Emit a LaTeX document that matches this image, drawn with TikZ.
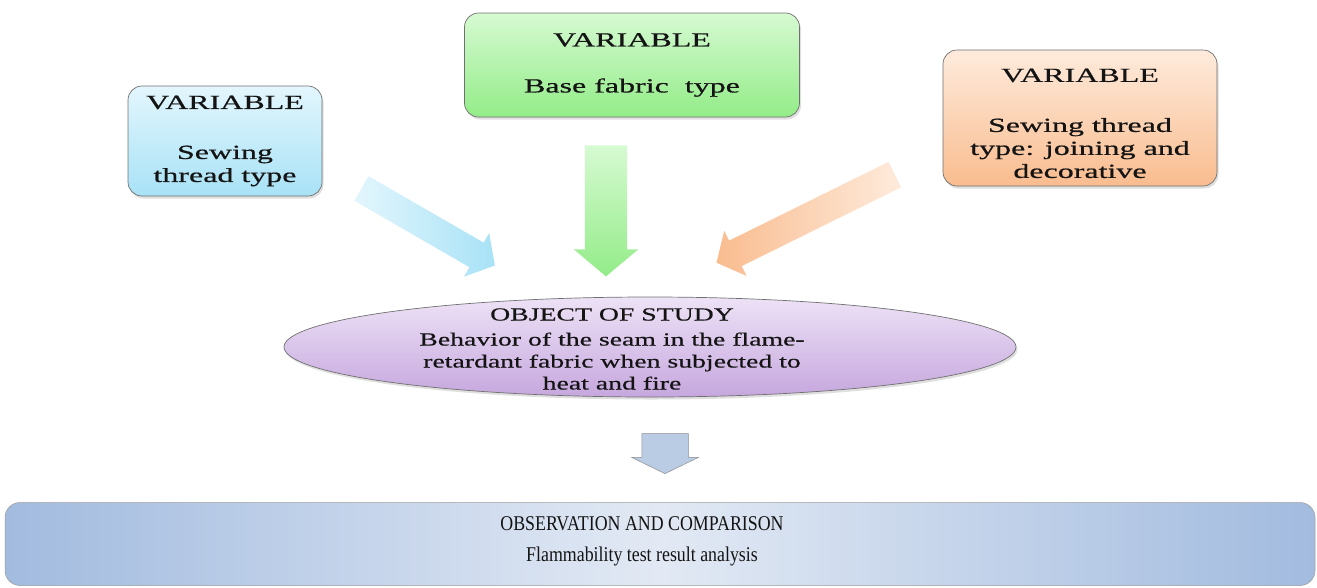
\documentclass[tikz,border=0pt]{standalone}
\usepackage{fontspec}
\setmainfont{Liberation Serif}
\newfontfamily\widefont[FakeStretch=1.6,FakeBold=0.6]{Liberation Serif}
\newfontfamily\midfont[FakeStretch=1.5,FakeBold=0.5]{Liberation Serif}
\newfontfamily\narrowfont[FakeStretch=0.85]{Liberation Serif}
\usetikzlibrary{shapes.geometric,shapes.arrows,shadows}
\definecolor{boxline}{HTML}{707070}
\definecolor{txt}{HTML}{141414}
\definecolor{bluelight}{HTML}{E3F6FD}
\definecolor{bluedark}{HTML}{A8E2F6}
\definecolor{greenlight}{HTML}{D6FAD2}
\definecolor{greendark}{HTML}{93EC88}
\definecolor{orangelight}{HTML}{FEEBDC}
\definecolor{orangedark}{HTML}{F9BC8F}
\definecolor{lilaclight}{HTML}{EDE2F6}
\definecolor{lilacdark}{HTML}{C6A7DE}
\definecolor{steellight}{HTML}{E2E9F4}
\definecolor{steeldark}{HTML}{A2BBDF}
\definecolor{downfill}{HTML}{B9CCE4}
\begin{document}
\begin{tikzpicture}[
    x = 1pt,
    y = -1pt,
    varbox/.style = {rectangle, rounded corners=14pt, draw=boxline,
    line width=0.7pt, inner sep=0pt, align=center, text=txt,
    font=\widefont\fontsize{20}{23}\selectfont,
    drop shadow={opacity=0.25, shadow xshift=1.5pt, shadow yshift=-2.5pt}},
    blockarrow/.style = {single arrow, draw=none, inner sep=0pt,
    outer sep=0pt, single arrow head extend=11pt, single arrow tip angle=100},
]

\useasboundingbox (0,0) rectangle (1317,587);

\node[varbox, minimum width=194pt, minimum height=110pt,
    top color=bluelight, bottom color=bluedark]
    (var_thread) at (225,141) {VARIABLE\\[27pt]Sewing\\thread type};
\node[varbox, minimum width=335pt, minimum height=104pt,
    top color=greenlight, bottom color=greendark]
    (var_fabric) at (632,65) {VARIABLE\\[23pt]Base fabric~ type};
\node[varbox, minimum width=274pt, minimum height=136pt,
    top color=orangelight, bottom color=orangedark]
    (var_decor) at (1080,118) {\rule{0pt}{24pt}VARIABLE\\[27pt]Sewing thread\\type: joining and\\decorative};

\node[blockarrow, minimum height=154pt, rotate=-30,
    left color=bluelight, right color=bluedark]
    (arr_thread) at (423,224) {\rule{0pt}{28pt}};
\node[blockarrow, minimum height=131pt, rotate=-90,
    top color=greenlight, bottom color=greendark]
    (arr_fabric) at (606,202) {\rule{0pt}{42pt}};
\node[blockarrow, minimum height=199pt, rotate=-153.7,
    left color=orangedark, right color=orangelight]
    (arr_decor) at (811,216) {\rule{0pt}{28pt}};

\node[ellipse, draw=boxline, line width=0.7pt, minimum width=732pt,
    minimum height=100pt, inner sep=0pt,
    top color=lilaclight, bottom color=lilacdark,
    drop shadow={opacity=0.25, shadow xshift=1.5pt, shadow yshift=-2.5pt}]
    (object) at (650,347) {};
\node[align=center, text=txt, font=\midfont\fontsize{18.5}{22}\selectfont]
    (object_text) at (612,349)
    {OBJECT OF STUDY\\[3pt]Behavior of the seam in the flame-\\retardant fabric when subjected to\\heat and fire};

\node[single arrow, draw=boxline!80, line width=0.5pt, fill=downfill,
    inner sep=0pt, minimum height=40pt, rotate=-90,
    single arrow head extend=10pt, single arrow tip angle=128]
    (arr_obs) at (665,448) {\rule{0pt}{46pt}};

\node[rectangle, rounded corners=15pt, draw=boxline!70, line width=0.5pt,
    minimum width=1310pt, minimum height=83pt, inner sep=0pt,
    left color=steeldark, right color=steeldark, middle color=steellight]
    (obs) at (660,544) {};
\node[align=center, text=txt, font=\narrowfont\fontsize{21}{31}\selectfont]
    (obs_text) at (642,541)
    {OBSERVATION AND COMPARISON\\Flammability test result analysis};

\end{tikzpicture}
\end{document}
